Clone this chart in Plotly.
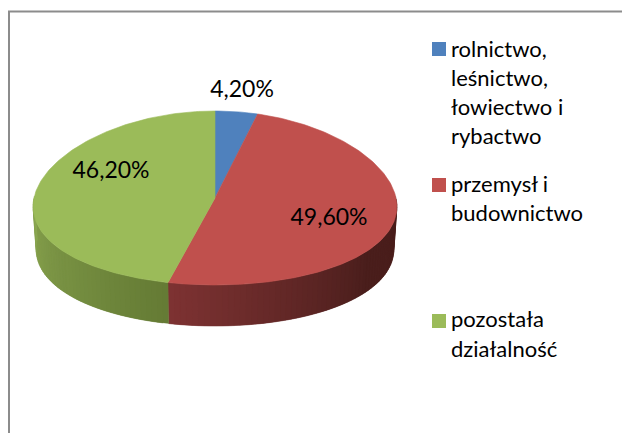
import math
import plotly.graph_objects as go

categories = ["rolnictwo, leśnictwo, łowiectwo i rybactwo", "przemysł i budownictwo", "pozostała działalność"]
values = [4.2, 49.6, 46.2]
legend_lines = [["rolnictwo,", "leśnictwo,", "łowiectwo i", "rybactwo"], ["przemysł i", "budownictwo"], ["pozostała", "działalność"]]
top_colors = ["#4f81bd", "#c0504d", "#9bbb59"]
wall_from = [(60, 95, 140), (125, 50, 50), (138, 166, 80)]
wall_to = [(40, 70, 110), (74, 30, 28), (100, 122, 52)]
label_pos = [(242, 91), (329, 219), (111, 172)]
legend_y = [[51, 80, 109, 138], [186, 215], [321, 351]]
marker_y = [49, 185, 321]

FONT = "Lato"
CX, CY, RX, RY = 215, 198, 181, 87
BX, BY, BRX, BRY = 215, 241, 178, 85
K = 0.1


def top_pt(a):
    return CX + RX * math.sin(a) * (1 - K * math.cos(a)), CY - RY * math.cos(a)


def bot_pt(a):
    return BX + BRX * math.sin(a) * (1 - K * math.cos(a)), BY - BRY * math.cos(a)


fig = go.Figure()
total = sum(values)
bounds = [0]
for v in values:
    bounds.append(bounds[-1] + v / total * 2 * math.pi)


def poly(xs, ys, color, lw=0.6):
    fig.add_trace(go.Scatter(x=xs, y=ys, mode="lines", fill="toself", fillcolor=color,
                             line=dict(color=color, width=lw), hoverinfo="skip", showlegend=False))


# side wall, shaded in thin strips; each strip overlaps the next one to hide seams
for i in range(len(values)):
    lo = max(bounds[i], math.pi / 2 - 0.02)
    hi = min(bounds[i + 1], 3 * math.pi / 2 + 0.02)
    if hi <= lo:
        continue
    n = max(2, int((hi - lo) / 0.03))
    for j in range(n):
        a0 = lo + (hi - lo) * j / n
        a1 = min(hi, lo + (hi - lo) * (j + 2) / n)
        am = lo + (hi - lo) * (j + 1) / n
        if i == 1:
            t = min(1, (hi - am) / (hi - lo) / 0.62)
        else:
            t = 1 - (am - lo) / (hi - lo)
        c = tuple(round(p + (q - p) * t) for p, q in zip(wall_from[i], wall_to[i]))
        p0, p1 = top_pt(a0), top_pt(a1)
        q0, q1 = bot_pt(a0), bot_pt(a1)
        poly([p0[0], p1[0], q1[0], q0[0], p0[0]], [p0[1], p1[1], q1[1], q0[1], p0[1]], "rgb(%d,%d,%d)" % c, 0.3)

# top face
for i in range(len(values)):
    n = max(6, int((bounds[i + 1] - bounds[i]) / 0.02))
    pts = [top_pt(bounds[i] + (bounds[i + 1] - bounds[i]) * j / n) for j in range(n + 1)]
    poly([CX] + [p[0] for p in pts] + [CX], [CY] + [p[1] for p in pts] + [CY], top_colors[i])

# data labels
fig.add_trace(go.Scatter(
    x=[p[0] for p in label_pos], y=[p[1] for p in label_pos], mode="text",
    text=[("%.2f%%" % v).replace(".", ",") for v in values],
    textposition="middle center", textfont=dict(family=FONT, size=23, color="#000000"),
    hoverinfo="skip", showlegend=False))

# legend
fig.add_trace(go.Scatter(
    x=[439] * 3, y=marker_y, mode="markers",
    marker=dict(symbol="square", size=14, color=top_colors, line=dict(width=0)),
    text=categories, hoverinfo="text", showlegend=False))
lx, ly, lt = [], [], []
for lines, ys in zip(legend_lines, legend_y):
    for s, y in zip(lines, ys):
        lx.append(451); ly.append(y); lt.append(s)
fig.add_trace(go.Scatter(x=lx, y=ly, mode="text", text=lt, textposition="middle right",
                         textfont=dict(family=FONT, size=22, color="#000000"),
                         hoverinfo="skip", showlegend=False))

# chart frame
fig.add_shape(type="path", path="M 9 433 L 9 11.5 L 622 11.5", line=dict(color="#8c8c8c", width=2), layer="below")

fig.update_layout(
    width=622, height=433, margin=dict(l=0, r=0, t=0, b=0),
    paper_bgcolor="#ffffff", plot_bgcolor="#ffffff",
    xaxis=dict(range=[0, 622], visible=False, fixedrange=True),
    yaxis=dict(range=[433, 0], visible=False, fixedrange=True),
)
fig.write_html("out.html", config={"displayModeBar": False},
               post_script="document.body.style.margin='0';document.body.style.overflow='hidden';")
